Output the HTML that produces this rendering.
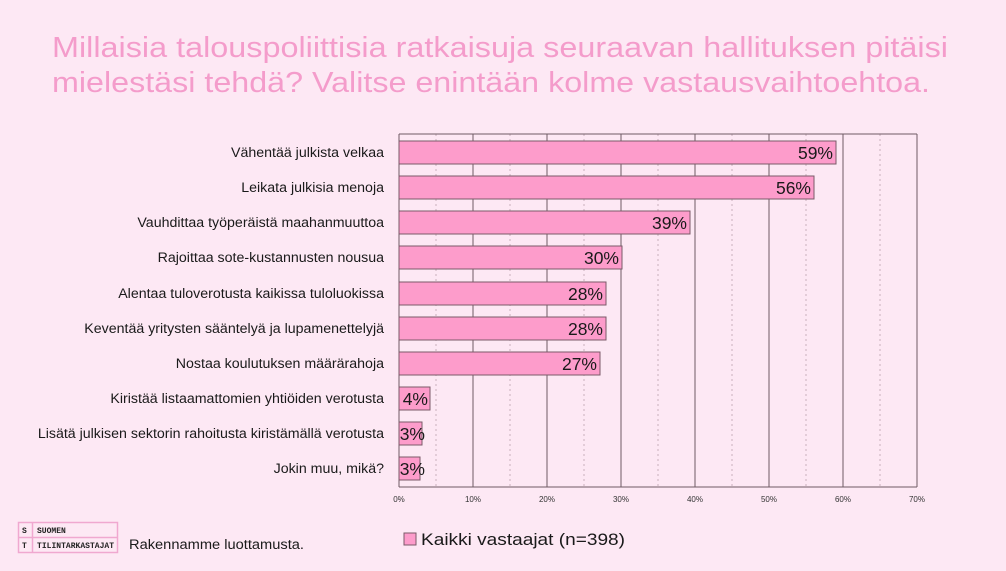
<!DOCTYPE html>
<html><head><meta charset="utf-8"><style>
body{margin:0;background:#fde8f4;}
</style></head><body>
<svg width="1006" height="566" xmlns="http://www.w3.org/2000/svg" font-family="Liberation Sans, sans-serif">
<rect width="1006" height="566" fill="#fde8f4"/>
<text x="52" y="57" font-size="29" fill="#f49ccb" textLength="896" lengthAdjust="spacingAndGlyphs">Millaisia talouspoliittisia ratkaisuja seuraavan hallituksen pitäisi</text>
<text x="52" y="92" font-size="29" fill="#f49ccb" textLength="878" lengthAdjust="spacingAndGlyphs">mielestäsi tehdä? Valitse enintään kolme vastausvaihtoehtoa.</text>
<g stroke="#c9b0bd" stroke-dasharray="2,3" stroke-width="1">
<line x1="436" y1="134" x2="436" y2="487"/><line x1="510" y1="134" x2="510" y2="487"/><line x1="584" y1="134" x2="584" y2="487"/><line x1="658" y1="134" x2="658" y2="487"/><line x1="732" y1="134" x2="732" y2="487"/><line x1="806" y1="134" x2="806" y2="487"/><line x1="880" y1="134" x2="880" y2="487"/>
</g>
<g stroke="#6e5a64" stroke-width="1">
<line x1="473" y1="134" x2="473" y2="487"/><line x1="547" y1="134" x2="547" y2="487"/><line x1="621" y1="134" x2="621" y2="487"/><line x1="695" y1="134" x2="695" y2="487"/><line x1="769" y1="134" x2="769" y2="487"/><line x1="843" y1="134" x2="843" y2="487"/><line x1="917" y1="134" x2="917" y2="487"/>
<line x1="399" y1="134" x2="917" y2="134"/>
<line x1="399" y1="134" x2="399" y2="487"/><line x1="399" y1="487" x2="917" y2="487"/>
</g>
<g fill="#fd9ccb" stroke="#7a5a68" stroke-width="1">
<rect x="399" y="141" width="437" height="23"/>
<rect x="399" y="176" width="415" height="23"/>
<rect x="399" y="211" width="291" height="23"/>
<rect x="399" y="246" width="223" height="23"/>
<rect x="399" y="282" width="207" height="23"/>
<rect x="399" y="317" width="207" height="23"/>
<rect x="399" y="352" width="201" height="23"/>
<rect x="399" y="387" width="31" height="23"/>
<rect x="399" y="422" width="23" height="23"/>
<rect x="399" y="457" width="21" height="23"/>
</g>
<g font-size="17.5" fill="#1a1a1a" text-anchor="end">
<text x="833" y="159">59%</text><text x="811" y="194">56%</text><text x="687" y="229">39%</text><text x="619" y="264">30%</text><text x="603" y="300">28%</text><text x="603" y="335">28%</text><text x="597" y="370">27%</text>
<text x="428" y="405">4%</text><text x="425" y="440">3%</text><text x="425" y="475">3%</text>
</g>
<g font-size="14.2" fill="#1a1a1a" text-anchor="end">
<text x="384" y="157">Vähentää julkista velkaa</text>
<text x="384" y="192">Leikata julkisia menoja</text>
<text x="384" y="227">Vauhdittaa työperäistä maahanmuuttoa</text>
<text x="384" y="262">Rajoittaa sote-kustannusten nousua</text>
<text x="384" y="298">Alentaa tuloverotusta kaikissa tuloluokissa</text>
<text x="384" y="333">Keventää yritysten sääntelyä ja lupamenettelyjä</text>
<text x="384" y="368">Nostaa koulutuksen määrärahoja</text>
<text x="384" y="403">Kiristää listaamattomien yhtiöiden verotusta</text>
<text x="384" y="438">Lisätä julkisen sektorin rahoitusta kiristämällä verotusta</text>
<text x="384" y="473">Jokin muu, mikä?</text>
</g>
<g font-size="8" fill="#333" text-anchor="middle">
<text x="399" y="502">0%</text><text x="473" y="502">10%</text><text x="547" y="502">20%</text><text x="621" y="502">30%</text><text x="695" y="502">40%</text><text x="769" y="502">50%</text><text x="843" y="502">60%</text><text x="917" y="502">70%</text>
</g>
<rect x="404" y="533" width="12" height="12" fill="#fd9ccb" stroke="#7a5a68"/>
<text x="421" y="545" font-size="17" fill="#1a1a1a" textLength="204" lengthAdjust="spacingAndGlyphs">Kaikki vastaajat (n=398)</text>
<g fill="none" stroke="#f0a8d0" stroke-width="1.5">
<rect x="18.5" y="522.5" width="99" height="30"/>
<line x1="18" y1="537.5" x2="118" y2="537.5"/><line x1="32.5" y1="522" x2="32.5" y2="553"/>
</g>
<g font-size="8" font-weight="bold" fill="#222" font-family="Liberation Mono, monospace">
<text x="22" y="533">S</text><text x="37" y="533">SUOMEN</text>
<text x="22" y="548">T</text><text x="37" y="548" textLength="77" lengthAdjust="spacingAndGlyphs">TILINTARKASTAJAT</text>
</g>
<text x="129" y="549" font-size="13.5" fill="#1a1a1a" textLength="175" lengthAdjust="spacingAndGlyphs">Rakennamme luottamusta.</text>
</svg>
</body></html>
